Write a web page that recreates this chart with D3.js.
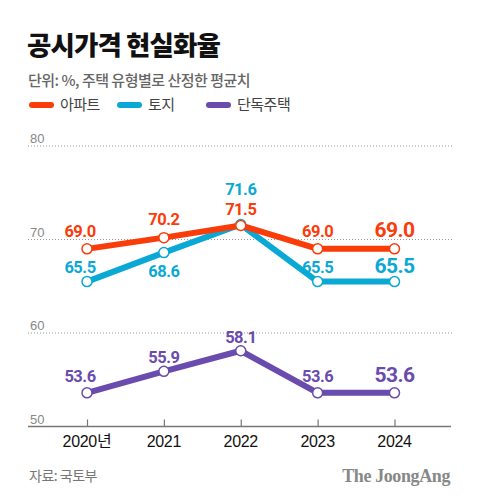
<!DOCTYPE html>
<html><head><meta charset="utf-8">
<script src="https://cdn.jsdelivr.net/npm/d3@7"></script>
<style>
html,body{margin:0;padding:0;background:#fff;}
svg{display:block;font-family:"Noto Sans CJK KR","Noto Sans",sans-serif;}
</style></head>
<body>
<svg id="c" width="480" height="503"></svg>
<script>
const years = ["2020년","2021","2022","2023","2024"];
const apartment = [69.0, 70.2, 71.5, 69.0, 69.0];
const land = [65.5, 68.6, 71.6, 65.5, 65.5];
const house = [53.6, 55.9, 58.1, 53.6, 53.6];
const yTicks = [50, 60, 70, 80];
const seriesNames = ["아파트","토지","단독주택"];
const colors = ["#fa3c0a","#0aa9d5","#6a4bae"];

const svg = d3.select("#c");
const x = d3.scalePoint().domain(years).range([87, 394.5]);
const y = d3.scaleLinear().domain([50, 80]).range([426.5, 146]);

// title
svg.append("text").attr("x", 27).attr("y", 55).attr("font-size", 26.5).attr("font-weight", 900)
  .attr("fill", "#111").attr("letter-spacing", -0.9).text("공시가격 현실화율");
svg.append("text").attr("x", 28).attr("y", 86).attr("font-size", 15).attr("font-weight", 500).attr("fill", "#666")
  .attr("letter-spacing", -0.5).text("단위: %, 주택 유형별로 산정한 평균치");

// legend
const legX = [29, 117, 206];
seriesNames.forEach((n, i) => {
  svg.append("line").attr("x1", legX[i] + 3).attr("x2", legX[i] + 22).attr("y1", 105).attr("y2", 105)
    .attr("stroke", colors[i]).attr("stroke-width", 6).attr("stroke-linecap", "round");
  svg.append("text").attr("x", legX[i] + 31).attr("y", 110).attr("font-size", 15).attr("fill", "#444")
    .attr("letter-spacing", -0.5).text(n);
});

// grid
yTicks.forEach(t => {
  if (t !== 50) {
    svg.append("line").attr("x1", 28).attr("x2", 452).attr("y1", y(t)).attr("y2", y(t))
      .attr("stroke", "#999").attr("stroke-width", 1).attr("stroke-dasharray", "1,2");
  }
  svg.append("text").attr("x", 30).attr("y", y(t) - 3).attr("font-size", 13).attr("fill", "#888")
    .attr("font-family", "'Liberation Sans', Roboto, sans-serif").text(t);
});

// x axis
const xAxis = d3.axisTop(x).tickSize(7).tickFormat("");
const gx = svg.append("g").attr("transform", `translate(0,${y(50)})`).call(xAxis);
gx.select(".domain").remove();
gx.selectAll(".tick line").attr("stroke", "#777").attr("stroke-width", 1.2);
svg.append("line").attr("x1", 28).attr("x2", 451).attr("y1", y(50)).attr("y2", y(50))
  .attr("stroke", "#777").attr("stroke-width", 1.5);
years.forEach(yr => {
  svg.append("text").attr("x", x(yr)).attr("y", 447).attr("text-anchor", "middle")
    .attr("font-size", 16).attr("fill", "#111").attr("font-family", "'Liberation Sans', 'Noto Sans CJK KR', sans-serif")
    .attr("letter-spacing", -0.3).text(yr);
});

// lines
const line = d3.line().x((d, i) => x(years[i])).y(d => y(d));
const drawOrder = [[house, 2], [land, 1], [apartment, 0]];
drawOrder.forEach(([data, ci]) => {
  svg.append("path").datum(data).attr("d", line).attr("fill", "none")
    .attr("stroke", colors[ci]).attr("stroke-width", 6).attr("stroke-linejoin", "round");
});
drawOrder.forEach(([data, ci]) => {
  svg.selectAll(null).data(data).enter().append("circle")
    .attr("cx", (d, i) => x(years[i])).attr("cy", d => y(d)).attr("r", 5)
    .attr("fill", "#fff").attr("stroke", colors[ci]).attr("stroke-width", 1.5);
});

// value labels
function labels(data, ci, offsets) {
  data.forEach((v, i) => {
    const last = i === data.length - 1;
    svg.append("text").attr("x", x(years[i]) + (i === 0 ? -7 : 0)).attr("y", y(v) + offsets[i])
      .attr("text-anchor", "middle").attr("font-family", "Roboto, sans-serif").attr("font-weight", 700)
      .attr("font-size", last ? 21 : 16.5).attr("fill", colors[ci]).attr("letter-spacing", -0.5)
      .text(v.toFixed(1));
  });
}
labels(apartment, 0, [-12, -12.5, -10, -12, -12]);
labels(land, 1, [-9, 24, -30, -9, -9]);
labels(house, 2, [-11, -8, -8, -11, -11]);

// footer
svg.append("text").attr("x", 29).attr("y", 481).attr("font-size", 14).attr("fill", "#777")
  .attr("letter-spacing", -0.5).text("자료: 국토부");
svg.append("text").attr("x", 450).attr("y", 482).attr("text-anchor", "end").attr("font-size", 18)
  .attr("font-weight", 700).attr("fill", "#888").attr("letter-spacing", -0.4)
  .attr("font-family", "'Liberation Serif',serif").text("The JoongAng");
</script>
</body></html>
